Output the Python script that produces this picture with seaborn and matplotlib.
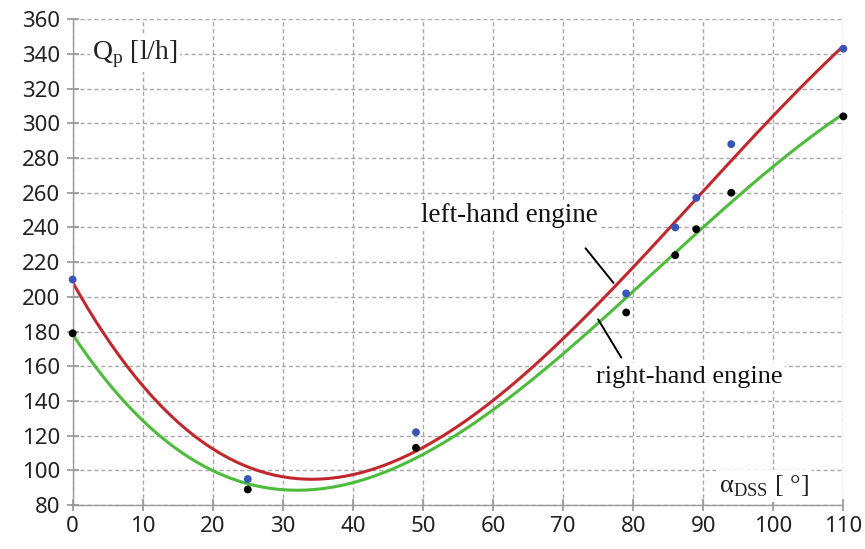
import numpy as np
import pandas as pd
import matplotlib
matplotlib.use("Agg")
import matplotlib.pyplot as plt
import seaborn as sns

angle = [0, 25, 49, 79, 86, 89, 94, 110]
left_engine = [210, 95, 122, 202, 240, 257, 288, 343]
right_engine = [179, 89, 113, 191, 224, 239, 260, 304]
x_ticks = list(range(0, 111, 10))
y_ticks = list(range(80, 361, 20))

df = pd.DataFrame({"angle": angle, "left": left_engine, "right": right_engine})

sns.set_theme(style="white")
plt.rcParams["font.family"] = ["Noto Sans", "DejaVu Sans"]

fig = plt.figure(figsize=(8.65, 5.49), dpi=100)
ax = fig.add_axes([0.084, 0.080, 0.891, 0.885])

RED = "#C0282D"
GREEN = "#4DBB3C"
BLUE = "#3A55B8"

sns.regplot(data=df, x="angle", y="left", order=3, ci=None, scatter=False,
            ax=ax, line_kws=dict(color=RED, lw=2.2))
sns.regplot(data=df, x="angle", y="right", order=3, ci=None, scatter=False,
            ax=ax, line_kws=dict(color=GREEN, lw=2.2))
sns.scatterplot(data=df, x="angle", y="left", ax=ax, color=BLUE, s=32,
                edgecolor="none", zorder=5, clip_on=False)
sns.scatterplot(data=df, x="angle", y="right", ax=ax, color="black", s=32,
                edgecolor="none", zorder=5, clip_on=False)

ax.set_xlim(0, 110)
ax.set_ylim(80, 360)
ax.set_xticks(x_ticks)
ax.set_yticks(y_ticks)
ax.set_xlabel("")
ax.set_ylabel("")
ax.grid(True, linestyle=(0, (3, 2)), color="#a8a8a8", lw=1.0)
ax.set_axisbelow(True)
for s in ["top", "right"]:
    ax.spines[s].set_visible(False)
for s in ["left", "bottom"]:
    ax.spines[s].set_color("#999999")
    ax.spines[s].set_linewidth(1.0)
ax.tick_params(axis="both", which="major", direction="inout", length=8,
               color="#999999", labelsize=16, labelcolor="#222222", pad=4)
ax.tick_params(axis="y", pad=5)
ax.tick_params(left=True, bottom=True)

serif = ["Liberation Serif", "DejaVu Serif"]
ax.text(2.8, 340, r"Q$_\mathregular{p}$ [l/h]", fontsize=20, family=serif,
        color="#222222", va="center", ha="left",
        bbox=dict(facecolor="white", edgecolor="none", pad=2))
ax.text(92.2, 91, r"α$_\mathregular{DSS}$ [ °]", fontsize=19, family=serif,
        color="#222222", va="center", ha="left",
        bbox=dict(facecolor="white", edgecolor="none", pad=2))

ax.plot([73.2, 77.2], [228, 208], color="black", lw=1.4, zorder=4)
ax.text(62.4, 247, "left-hand engine", fontsize=19.5, family=serif,
        color="#111111", va="center", ha="center", zorder=6,
        bbox=dict(facecolor="white", edgecolor="none", pad=2))
ax.plot([75.0, 78.3], [187, 165], color="black", lw=1.4, zorder=4)
ax.text(88.0, 154, "right-hand engine", fontsize=19, family=serif,
        color="#111111", va="center", ha="center", zorder=6,
        bbox=dict(facecolor="white", edgecolor="none", pad=2))

fig.savefig("out.png", dpi=100)
